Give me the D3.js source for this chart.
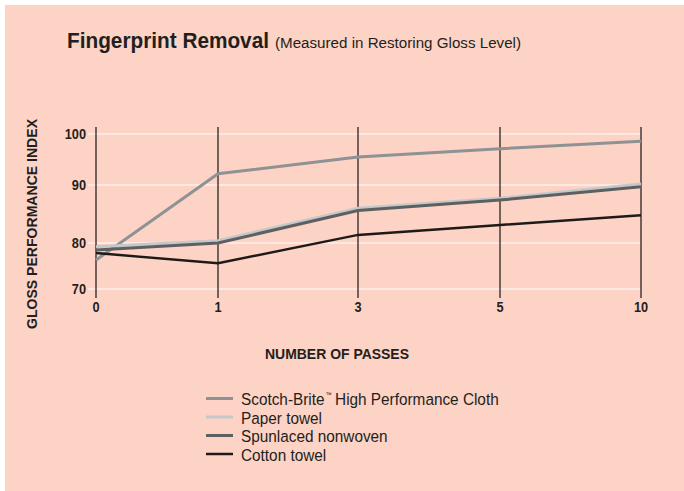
<!DOCTYPE html>
<html>
<head>
<meta charset="utf-8">
<script src="https://cdn.jsdelivr.net/npm/d3@7"></script>
<style>
  html, body { margin: 0; padding: 0; background: #ffffff; }
  svg { display: block; }
  text { font-family: "Liberation Sans Narrow", "Arial Narrow", "Liberation Sans", Arial, sans-serif; fill: #231f20; }
</style>
</head>
<body>
<svg id="chart" width="684" height="491"></svg>
<script>
// Passes measured and the gloss readings for each cloth
const passes = [0, 1, 3, 5, 10];
const yTicks = [70, 80, 90, 100];
const scotchBrite = [76.3, 92.2, 95.5, 97.1, 98.6];
const paperTowel = [79.2, 80.4, 86.0, 87.7, 90.2];
const spunlaced = [78.5, 80.0, 85.6, 87.4, 89.7];
const cottonTowel = [77.8, 75.6, 81.4, 83.1, 84.8];
const seriesNames = ["Scotch-Brite", "Paper towel", "Spunlaced nonwoven", "Cotton towel"];

const series = [
  { name: seriesNames[0], suffix: "High Performance Cloth", values: scotchBrite, color: "#8f9295", width: 3 },
  { name: seriesNames[1], values: paperTowel, color: "#c4c8ca", width: 3 },
  { name: seriesNames[2], values: spunlaced, color: "#5e5f61", width: 3 },
  { name: seriesNames[3], values: cottonTowel, color: "#1e1a1a", width: 2.5 }
];

const svg = d3.select("#chart");
svg.append("rect").attr("x", 5).attr("y", 5).attr("width", 679).attr("height", 486).attr("fill", "#fdd3c5");

// Piecewise scales: the printed axes are spaced unevenly
const x = d3.scaleLinear().domain(passes).range([96, 218, 358, 500, 641]);
const y = d3.scaleLinear().domain(yTicks).range([289, 243, 185, 134]);

// Squeeze a text element horizontally to mimic a condensed face
function condense(sel, k) {
  sel.each(function () {
    const w = this.getComputedTextLength();
    d3.select(this).attr("textLength", w * k).attr("lengthAdjust", "spacingAndGlyphs");
  });
}

// Place a condensed text piece with a horizontal scale; returns its drawn width
function squeezedText(g, str, px, py, size, k) {
  const t = g.append("text").attr("transform", `translate(${px},${py}) scale(${k},1)`)
    .attr("font-size", size).text(str);
  return t.node().getComputedTextLength() * k;
}

// Title
const title = svg.append("text").attr("x", 67).attr("y", 48);
title.append("tspan").attr("font-weight", "bold").attr("font-size", 22)
  .attr("textLength", 202).attr("lengthAdjust", "spacingAndGlyphs").text("Fingerprint Removal");
title.append("tspan").attr("dx", 6).attr("font-size", 15.5)
  .attr("textLength", 246).attr("lengthAdjust", "spacingAndGlyphs").text("(Measured in Restoring Gloss Level)");

// Horizontal white gridlines
svg.append("g").selectAll("line").data(yTicks).join("line")
  .attr("x1", 88).attr("x2", 641)
  .attr("y1", d => y(d)).attr("y2", d => y(d))
  .attr("stroke", "#ffffff").attr("stroke-width", 1.2);

// Vertical pass lines
svg.append("g").selectAll("line").data(passes).join("line")
  .attr("x1", d => x(d)).attr("x2", d => x(d))
  .attr("y1", 127).attr("y2", 298)
  .attr("stroke", "#2b2222").attr("stroke-width", 1.3);

// Y tick labels
svg.append("g").selectAll("text").data(yTicks).join("text")
  .attr("x", 86).attr("y", d => y(d)).attr("dy", "0.36em")
  .attr("text-anchor", "end").attr("font-weight", "bold").attr("font-size", 14.5)
  .text(d => d)
  .call(condense, 0.88);

// X tick labels
svg.append("g").selectAll("text").data(passes).join("text")
  .attr("x", d => x(d)).attr("y", 312)
  .attr("text-anchor", "middle").attr("font-weight", "bold").attr("font-size", 14.5)
  .text(d => d)
  .call(condense, 0.88);

// Axis titles
svg.append("text").attr("transform", "translate(37,224) rotate(-90)")
  .attr("text-anchor", "middle").attr("font-weight", "bold").attr("font-size", 15)
  .attr("textLength", 210).attr("lengthAdjust", "spacingAndGlyphs")
  .text("GLOSS PERFORMANCE INDEX");
svg.append("text").attr("x", 337).attr("y", 359)
  .attr("text-anchor", "middle").attr("font-weight", "bold").attr("font-size", 15.5)
  .attr("textLength", 144).attr("lengthAdjust", "spacingAndGlyphs")
  .text("NUMBER OF PASSES");

// Series lines
const line = d3.line().x((d, i) => x(passes[i])).y(d => y(d));
svg.append("g").selectAll("path").data(series).join("path")
  .attr("d", d => line(d.values))
  .attr("fill", "none")
  .attr("stroke", d => d.color)
  .attr("stroke-width", d => d.width)
  .attr("stroke-linejoin", "miter");

// Legend: swatch, name, and for the branded cloth a small trademark mark and the rest of the name
const legend = svg.append("g").selectAll("g").data(series).join("g")
  .attr("transform", (d, i) => `translate(206,${398.5 + i * 18.5})`);
legend.append("line").attr("x1", 0).attr("x2", 27)
  .attr("stroke", d => d.color).attr("stroke-width", d => d.width);
legend.each(function (d) {
  const g = d3.select(this);
  const k = 0.93;
  let cx = 35;
  cx += squeezedText(g, d.name, cx, 6.5, 16.5, k) + 1;
  if (!d.suffix) return;
  cx += squeezedText(g, "\u2122", cx, -1.5, 6.5, k) + 3.5;
  squeezedText(g, d.suffix, cx, 6.5, 16.5, k);
});
</script>
</body>
</html>
